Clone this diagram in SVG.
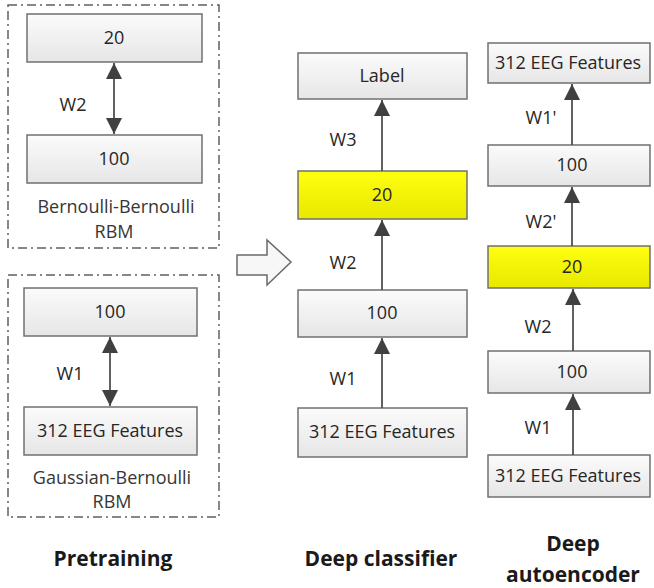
<svg xmlns="http://www.w3.org/2000/svg" width="654" height="588" viewBox="0 0 654 588">
<defs>
<linearGradient id="gGray" x1="0" y1="0" x2="0" y2="1">
<stop offset="0" stop-color="#fbfbfb"/><stop offset="1" stop-color="#e6e6e6"/>
</linearGradient>
<linearGradient id="gYel" x1="0" y1="0" x2="0" y2="1">
<stop offset="0" stop-color="#ffff10"/><stop offset="1" stop-color="#e8e800"/>
</linearGradient>
<marker id="ahB" viewBox="0 0 10 10" refX="10" refY="5" markerWidth="16" markerHeight="16" markerUnits="userSpaceOnUse" orient="auto-start-reverse">
<path d="M0,0 L10,5 L0,10 Z" fill="#404040"/>
</marker>
</defs>
<style>
.box{fill:url(#gGray);stroke:#707070;stroke-width:1.5}
.ybox{fill:url(#gYel);stroke:#707070;stroke-width:1.5}
.grp{fill:none;stroke:#606060;stroke-width:1.5;stroke-dasharray:9 4 2 4}
.t{font-family:"Open Sans","Liberation Sans",Arial,sans-serif;font-size:18px;fill:#262626;text-anchor:middle;dominant-baseline:central}
.sm{fill:#363636}
.ttl{font-family:"Open Sans","Liberation Sans",Arial,sans-serif;font-size:21px;font-weight:bold;fill:#1a1a1a;text-anchor:middle;dominant-baseline:central}
.c{stroke:#505050;stroke-width:1.8;fill:none}
</style>
<rect width="654" height="588" fill="#ffffff"/>

<g id="pretrain-top">
<rect class="grp" x="8" y="5" width="211" height="243"/>
<text class="t sm" x="116" y="206">Bernoulli-Bernoulli</text>
<text class="t sm" x="114" y="231">RBM</text>
</g>
<g id="pretrain-bottom">
<rect class="grp" x="8" y="275" width="211" height="242"/>
<text class="t sm" x="112" y="477">Gaussian-Bernoulli</text>
<text class="t sm" x="112" y="501">RBM</text>
</g>

<g id="p-20"><rect class="box" x="27" y="14" width="175" height="48"/><text class="t" x="114" y="37">20</text></g>
<g id="p-100a"><rect class="box" x="27" y="135" width="175" height="48"/><text class="t" x="114" y="158">100</text></g>
<g id="p-100b"><rect class="box" x="24" y="288" width="173" height="48"/><text class="t" x="110" y="311">100</text></g>
<g id="p-312"><rect class="box" x="24" y="407" width="173" height="48"/><text class="t" x="110" y="430">312 EEG Features</text></g>

<g id="c-label"><rect class="box" x="298" y="53" width="169" height="46"/><text class="t" x="382" y="75">Label</text></g>
<g id="c-20"><rect class="ybox" x="298" y="171" width="169" height="48"/><text class="t" x="382" y="194">20</text></g>
<g id="c-100"><rect class="box" x="298" y="290" width="169" height="47"/><text class="t" x="382" y="312">100</text></g>
<g id="c-312"><rect class="box" x="298" y="408" width="169" height="49"/><text class="t" x="382" y="431">312 EEG Features</text></g>

<g id="a-312top"><rect class="box" x="488" y="43" width="162" height="40"/><text class="t" x="568" y="62">312 EEG Features</text></g>
<g id="a-100top"><rect class="box" x="488" y="145" width="162" height="41"/><text class="t" x="572" y="164">100</text></g>
<g id="a-20"><rect class="ybox" x="488" y="246" width="162" height="42"/><text class="t" x="572" y="266">20</text></g>
<g id="a-100"><rect class="box" x="488" y="351" width="162" height="42"/><text class="t" x="572" y="371">100</text></g>
<g id="a-312"><rect class="box" x="488" y="455" width="162" height="42"/><text class="t" x="568" y="475">312 EEG Features</text></g>

<g id="connectors">
<line class="c" x1="114" y1="63" x2="114" y2="134" marker-start="url(#ahB)" marker-end="url(#ahB)"/>
<line class="c" x1="110" y1="337" x2="110" y2="406" marker-start="url(#ahB)" marker-end="url(#ahB)"/>
<line class="c" x1="382" y1="171" x2="382" y2="100" marker-end="url(#ahB)"/>
<line class="c" x1="382" y1="290" x2="382" y2="220" marker-end="url(#ahB)"/>
<line class="c" x1="382" y1="408" x2="382" y2="338" marker-end="url(#ahB)"/>
<line class="c" x1="572" y1="145" x2="572" y2="84" marker-end="url(#ahB)"/>
<line class="c" x1="572" y1="246" x2="572" y2="187" marker-end="url(#ahB)"/>
<line class="c" x1="573" y1="351" x2="573" y2="289" marker-end="url(#ahB)"/>
<line class="c" x1="573" y1="455" x2="573" y2="394" marker-end="url(#ahB)"/>
<text class="t" x="73" y="104">W2</text>
<text class="t" x="70" y="373">W1</text>
<text class="t" x="343" y="139">W3</text>
<text class="t" x="343" y="262">W2</text>
<text class="t" x="343" y="378">W1</text>
<text class="t" x="541" y="117">W1'</text>
<text class="t" x="541" y="221">W2'</text>
<text class="t" x="538" y="326">W2</text>
<text class="t" x="538" y="427">W1</text>
</g>

<g id="transform-arrow">
<path d="M237,255 L267,255 L267,240 L291,262 L267,285 L267,275 L237,275 Z" fill="#f7f7f7" stroke="#6a6a6a" stroke-width="1.5" stroke-linejoin="miter"/>
</g>

<g id="titles">
<text class="ttl" x="113" y="558">Pretraining</text>
<text class="ttl" x="381" y="558">Deep classifier</text>
<text class="ttl" x="573" y="543">Deep</text>
<text class="ttl" x="573" y="574">autoencoder</text>
</g>
</svg>
